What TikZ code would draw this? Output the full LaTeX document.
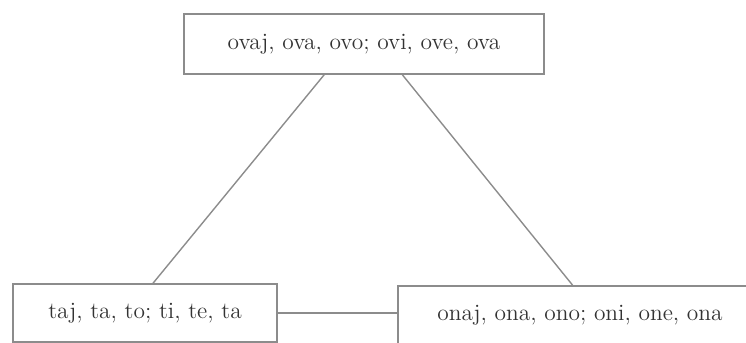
\documentclass[tikz,border=0pt]{standalone}
\usepackage{amsmath}
\usepackage{tikz}
\usetikzlibrary{calc}

\begin{document}
\begin{tikzpicture}[x=0.5pt, y=0.5pt,
    box/.style={rectangle, draw=black!45, line width=0.7pt, inner sep=0pt,
        text=black!80, font=\fontsize{11.7}{14}\selectfont},
    link/.style={draw=black!45, line width=0.7pt}]
    \useasboundingbox (0,0) rectangle (746,343);
    \clip (0,0) rectangle (746,343);

    \node[box, minimum width=180pt, minimum height=30pt] (OVAJ) at (364,299) {ovaj, ova, ovo; ovi, ove, ova};
    \node[box, minimum width=132pt, minimum height=29pt] (TAJ) at (145,30) {taj, ta, to; ti, te, ta};
    \node[box, minimum width=182pt, minimum height=29pt] (ONAJ) at (580,28) {onaj, ona, ono; oni, one, ona};

    \draw[link] ($(OVAJ.south west)!0.39!(OVAJ.south east)$) -- ($(TAJ.north west)!0.53!(TAJ.north east)$);
    \draw[link] ($(OVAJ.south west)!0.606!(OVAJ.south east)$) -- ($(ONAJ.north west)!0.48!(ONAJ.north east)$);
    \draw[link] (TAJ.east) -- (TAJ.east -| ONAJ.west);
\end{tikzpicture}
\end{document}
